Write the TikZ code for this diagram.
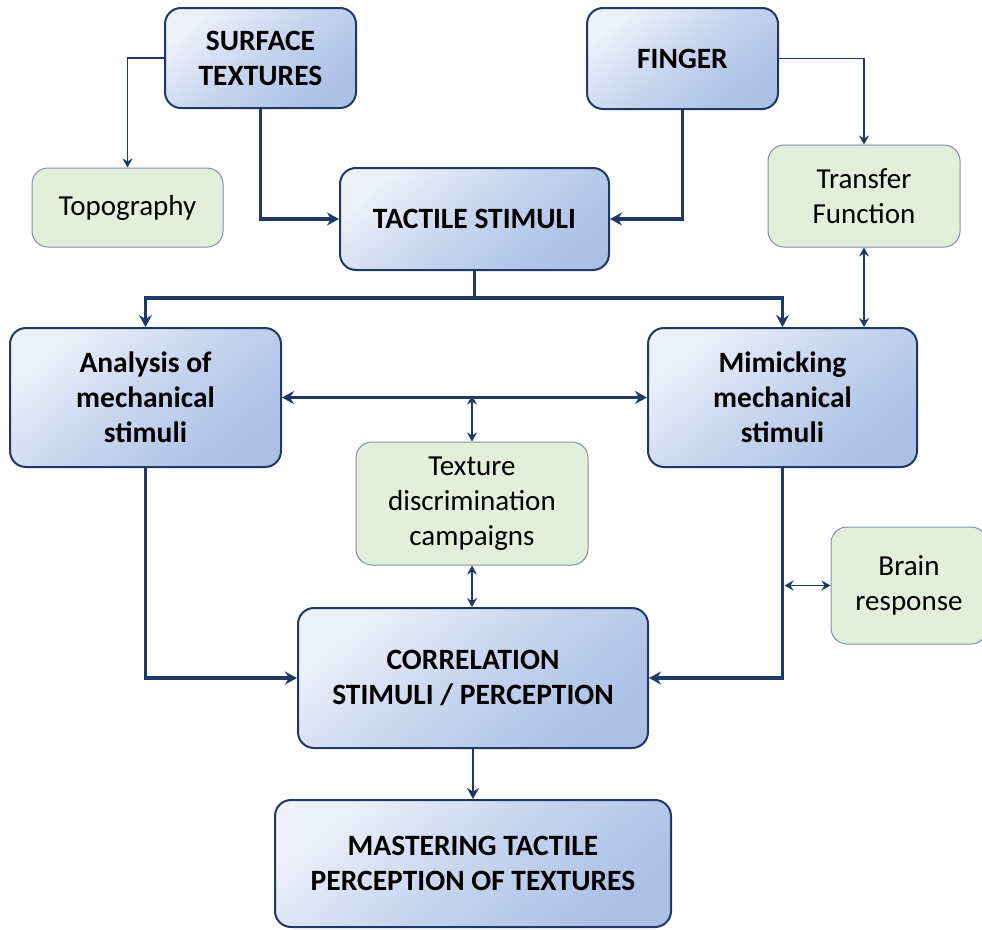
\documentclass[tikz,border=0pt]{standalone}
\usepackage{fontspec}
\setmainfont{Carlito}
\usetikzlibrary{arrows.meta}

\definecolor{navy}{RGB}{31,56,100}
\definecolor{blueLight}{RGB}{236,241,250}
\definecolor{blueMid}{RGB}{198,212,238}
\definecolor{blueDark}{RGB}{172,192,230}
\definecolor{greenFill}{RGB}{226,239,218}
\definecolor{greenEdge}{RGB}{128,144,170}

\tikzset{
  bluebox/.style={draw=navy, line width=2pt, rounded corners=16pt,
    top color=blueLight, bottom color=blueDark, middle color=blueMid,
    shading angle=40, align=center,
    font=\fontsize{29.5}{35}\selectfont\bfseries, text=black},
  greenbox/.style={draw=greenEdge, line width=1pt, fill=greenFill,
    rounded corners=16pt, align=center,
    font=\fontsize{29}{35}\selectfont, text=black},
  heavy/.style={draw=navy, line width=3.5pt},
  heavyarrow/.style={heavy, -{Stealth[length=12pt,width=13pt,inset=4pt]}},
  heavyboth/.style={heavy, {Stealth[length=12pt,width=13pt,inset=4pt]}-{Stealth[length=12pt,width=13pt,inset=4pt]}},
  light/.style={draw=navy, line width=1.1pt},
  lightarrow/.style={light, -{Stealth[length=9pt,width=10pt,inset=3pt]}},
  lightboth/.style={light, {Stealth[length=9pt,width=10pt,inset=3pt]}-{Stealth[length=9pt,width=10pt,inset=3pt]}},
  midarrow/.style={draw=navy, line width=2.4pt, -{Stealth[length=11pt,width=12pt,inset=3.5pt]}},
}

\begin{document}
\begin{tikzpicture}[x=1pt, y=-1pt]
  \clip (0,0) rectangle (982,929);

  % blue process boxes
  \node[bluebox, minimum width=191pt, minimum height=100pt] (surf) at (260.5,58) {SURFACE\\TEXTURES};
  \node[bluebox, minimum width=191pt, minimum height=101pt] (fing) at (682.5,58.5) {FINGER};
  \node[bluebox, minimum width=269pt, minimum height=102pt] (tact) at (474.5,219) {TACTILE STIMULI};
  \node[bluebox, minimum width=271pt, minimum height=139pt] (anal) at (145.5,397.5) {Analysis of\\mechanical\\stimuli};
  \node[bluebox, minimum width=269pt, minimum height=139pt] (mim) at (782.5,397.5) {Mimicking\\mechanical\\stimuli};
  \node[bluebox, minimum width=350pt, minimum height=140pt] (corr) at (473,678) {CORRELATION\\STIMULI / PERCEPTION};
  \node[bluebox, minimum width=396pt, minimum height=127pt] (mast) at (473,863.5) {MASTERING TACTILE\\PERCEPTION OF TEXTURES};

  % green side boxes
  \node[greenbox, minimum width=191pt, minimum height=79pt] (topo) at (127.5,207.5) {Topography};
  \node[greenbox, minimum width=192pt, minimum height=102pt] (trans) at (864,196) {Transfer\\Function};
  \node[greenbox, minimum width=232pt, minimum height=123pt] (tex) at (472,503.5) {Texture\\discrimination\\campaigns};
  \node[greenbox, minimum width=156pt, minimum height=117pt] (brain) at (909,585.5) {Brain\\response};

  % junction points
  \coordinate (split) at (tact.south |- 0,298);
  \coordinate (texjoin) at (tex.north |- anal.east);
  \coordinate (brainjoin) at (mim.south |- brain.west);

  % heavy flow
  \draw[heavyarrow] (surf.south) |- (tact.west);
  \draw[heavyarrow] (fing.south) |- (tact.east);
  \draw[heavy] (tact.south) -- (split);
  \draw[heavyarrow] (split) -| (anal.north);
  \draw[heavyarrow] (split) -| (mim.north);
  \draw[heavyboth] (anal.east) -- (mim.west);
  \draw[heavyarrow] (anal.south) |- (corr.west);
  \draw[heavyarrow] (mim.south) |- (corr.east);
  \draw[midarrow] (corr.south) -- (mast.north);

  % light links
  \draw[lightarrow] (surf.west) -| (topo.north);
  \draw[lightarrow] (fing.east) -| (trans.north);
  \draw[lightboth] (trans.south) -- (trans.south |- mim.north);
  \draw[lightboth] ([yshift=2pt]texjoin) -- (tex.north);
  \draw[lightboth] (tex.south) -- (tex.south |- corr.north);
  \draw[lightboth] ([xshift=2pt]brainjoin) -- (brain.west);
\end{tikzpicture}
\end{document}
